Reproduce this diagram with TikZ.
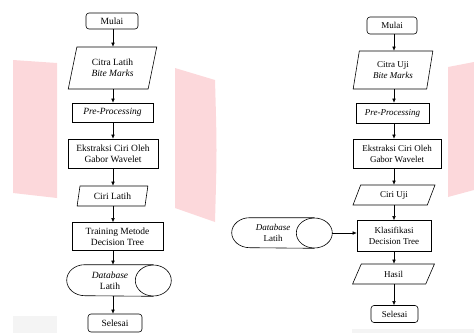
\documentclass[tikz,border=0pt]{standalone}
\usepackage{fontspec}
\setmainfont{Liberation Serif}
\usetikzlibrary{shapes.geometric,arrows.meta}
\definecolor{tandaair}{RGB}{252,216,219}
\definecolor{abumuda}{RGB}{244,244,244}

\begin{document}
\begin{tikzpicture}[x=1pt, y=-1pt, line width=0.6pt,
    font=\fontsize{9.5}{11}\selectfont,
    terminal/.style={draw, rounded corners=3pt, inner sep=0pt},
    proses/.style={draw, align=center, inner sep=0pt},
    dataio/.style 2 args={draw, trapezium, trapezium left angle=#1, trapezium right angle=#2,
        trapezium stretches, align=center, inner sep=0pt},
    simpan/.style={align=center, inner sep=0pt},
    alur/.style={-{Latex[length=4pt,width=3.5pt]}, line width=0.5pt}]

    \useasboundingbox (0,0) rectangle (474,333);

    % tanda air di belakang
    \fill[tandaair] (13,60) -- (57,63) -- (57,198) -- (13,193) -- cycle;
    \fill[tandaair] (175,68) -- (215,80) .. controls (217,150) .. (215,222) -- (175,208) -- cycle;
    \fill[tandaair] (448,67) -- (474,62) -- (474,190) -- (448,197) -- cycle;
    \fill[abumuda] (13,316) rectangle (57,333);
    \fill[abumuda] (352,329) rectangle (474,333);

    % alur pelatihan
    \coordinate (sumbuL) at (113,0);
    \node[terminal, minimum width=52, minimum height=16] (mulaiL) at (112,21) {Mulai};
    \node[dataio={74}{106}, minimum width=89, minimum height=42] (citraL) at (112.5,68) {Citra Latih\\\textit{Bite Marks}};
    \node[proses, minimum width=81, minimum height=19] (preL) at (112.5,112.5) {\textit{Pre-Processing}};
    \node[proses, minimum width=90, minimum height=29] (ekstL) at (113,153.5) {Ekstraksi Ciri Oleh\\Gabor Wavelet};
    \node[dataio={76}{104}, minimum width=71, minimum height=20] (ciriL) at (112.5,196) {Ciri Latih};
    \node[proses, minimum width=91, minimum height=28] (trainL) at (117.5,236.5) {Training Metode\\Decision Tree};
    \node[simpan, minimum width=86, minimum height=31] (dbL) at (110,280.5) {\textit{Database}\\Latih};
    \node[terminal, minimum width=54, minimum height=18] (selL) at (115,323) {Selesai};

    \draw (dbL.north east) -- ([xshift=18]dbL.north west)
        arc[start angle=270, end angle=90, x radius=18, y radius=15.5] -- (dbL.south east);
    \draw (dbL.east) ellipse[x radius=18, y radius=15.5];

    \draw[alur] (sumbuL |- mulaiL.south) -- (sumbuL |- citraL.north);
    \draw[alur] (sumbuL |- citraL.south) -- (sumbuL |- preL.north);
    \draw[alur] (sumbuL |- preL.south) -- (sumbuL |- ekstL.north);
    \draw[alur] (sumbuL |- ekstL.south) -- (sumbuL |- ciriL.north);
    \draw[alur] (sumbuL |- ciriL.south) -- (sumbuL |- trainL.north);
    \draw[alur] (sumbuL |- trainL.south) -- (sumbuL |- dbL.north);
    \draw[alur] (sumbuL |- dbL.south) -- (sumbuL |- selL.north);

    % alur pengujian
    \begin{scope}[font=\fontsize{9}{11}\selectfont]
    \coordinate (sumbuR) at (394,0);
    \node[terminal, minimum width=50, minimum height=17] (mulaiR) at (392,25.5) {Mulai};
    \node[dataio={78}{102}, minimum width=80, minimum height=38] (citraR) at (393,70) {Citra Uji\\\textit{Bite Marks}};
    \node[proses, minimum width=73, minimum height=20] (preR) at (392.5,113) {\textit{Pre-Processing}};
    \node[proses, minimum width=88, minimum height=29] (ekstR) at (397,153.5) {Ekstraksi Ciri Oleh\\Gabor Wavelet};
    \node[dataio={68}{112}, minimum width=82, minimum height=20] (ciriR) at (394,195) {Ciri Uji};
    \node[proses, minimum width=74, minimum height=31] (klasR) at (394,236) {Klasifikasi\\Decision Tree};
    \node[dataio={68}{112}, minimum width=82, minimum height=20] (hasilR) at (393.5,274) {Hasil};
    \node[terminal, minimum width=47, minimum height=17] (selR) at (394.5,314) {Selesai};
    \node[simpan, minimum width=82, minimum height=30] (dbR) at (273,233) {\textit{Database}\\Latih};
    \end{scope}

    \draw (dbR.north east) -- ([xshift=18]dbR.north west)
        arc[start angle=270, end angle=90, x radius=18, y radius=15] -- (dbR.south east);
    \draw (dbR.east) ellipse[x radius=18, y radius=15];

    \draw[alur] (sumbuR |- mulaiR.south) -- (sumbuR |- citraR.north);
    \draw[alur] (sumbuR |- citraR.south) -- (sumbuR |- preR.north);
    \draw[alur] (sumbuR |- preR.south) -- (sumbuR |- ekstR.north);
    \draw[alur] (sumbuR |- ekstR.south) -- (sumbuR |- ciriR.north);
    \draw[alur] (sumbuR |- ciriR.south) -- (sumbuR |- klasR.north);
    \draw[alur] (sumbuR |- klasR.south) -- (sumbuR |- hasilR.north);
    \draw[alur] (sumbuR |- hasilR.south) -- (sumbuR |- selR.north);
    \draw[alur] ([xshift=18]dbR.east) -- (klasR.west |- dbR.east);
\end{tikzpicture}
\end{document}
